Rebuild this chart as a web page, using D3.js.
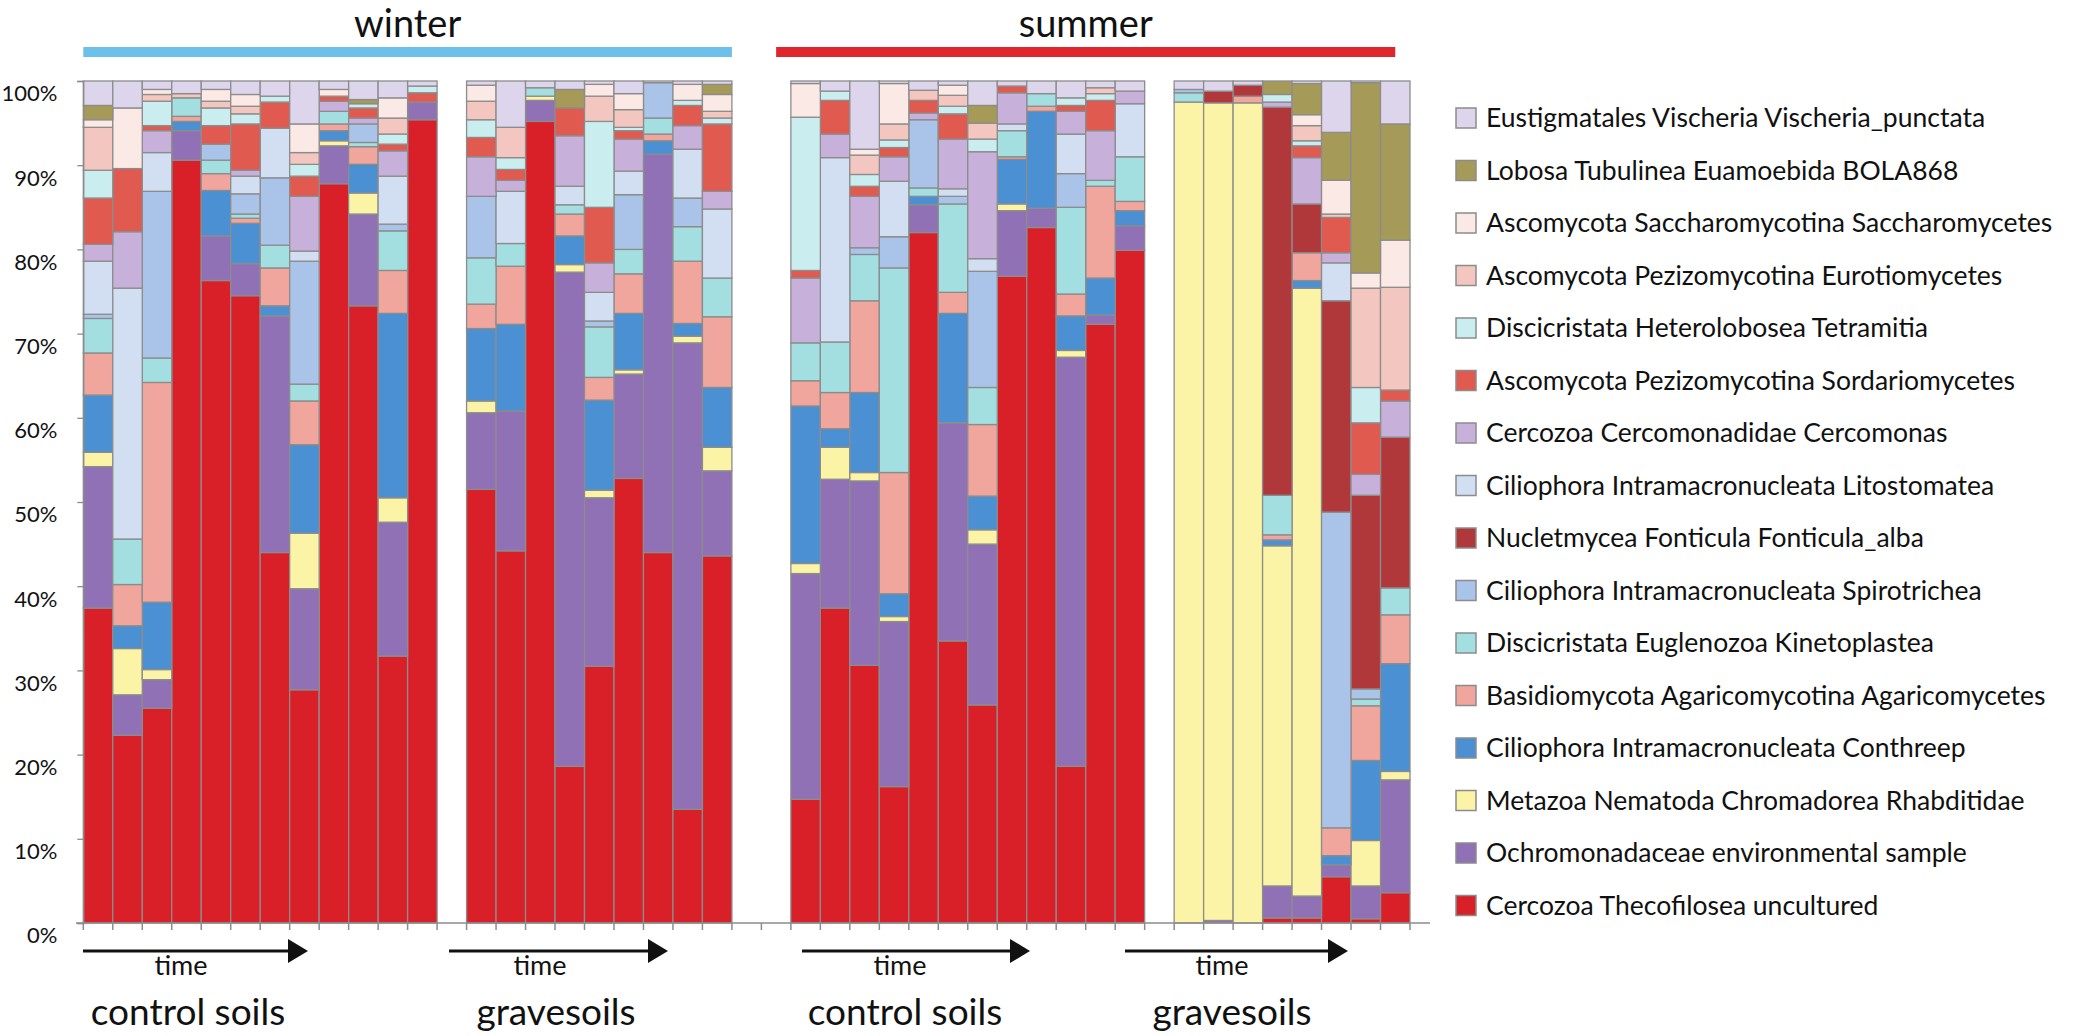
<!DOCTYPE html>
<html><head><meta charset="utf-8">
<script src="https://cdn.jsdelivr.net/npm/d3@7"></script>
<style>
body{margin:0;background:#fff}
svg{display:block}
text{font-family:Lato,"Open Sans",sans-serif;fill:#111}
</style>
</head><body>
<svg id="chart" width="2100" height="1036"></svg>
<script>
// ---------- data (series listed bottom -> top of each stack) ----------
const seriesNames = [
  "Cercozoa Thecofilosea uncultured",
  "Ochromonadaceae environmental sample",
  "Metazoa Nematoda Chromadorea Rhabditidae",
  "Ciliophora Intramacronucleata Conthreep",
  "Basidiomycota Agaricomycotina Agaricomycetes",
  "Discicristata Euglenozoa Kinetoplastea",
  "Ciliophora Intramacronucleata Spirotrichea",
  "Nucletmycea Fonticula Fonticula_alba",
  "Ciliophora Intramacronucleata Litostomatea",
  "Cercozoa Cercomonadidae Cercomonas",
  "Ascomycota Pezizomycotina Sordariomycetes",
  "Discicristata Heterolobosea Tetramitia",
  "Ascomycota Pezizomycotina Eurotiomycetes",
  "Ascomycota Saccharomycotina Saccharomycetes",
  "Lobosa Tubulinea Euamoebida BOLA868",
  "Eustigmatales Vischeria Vischeria_punctata"
];
const seriesColors = [
  "#d91f27","#9171b5","#fbf3a6","#4b90d2","#f0a59d","#a3dfe0","#a9c4e8","#b0383b",
  "#d2def2","#c7b0d9","#e05a50","#caeef0","#f4c6c0","#fbe9e6","#a59a57","#dcd5ec"
];

// each row = one sample (time order), values in % in seriesNames order
const winterControl = [
  [37.4,16.8,1.7,6.8,5.0,4.1,0.5,0,6.3,2.0,5.5,3.3,5.1,0.9,1.7,2.9],
  [22.3,4.8,5.5,2.7,4.9,5.4,0,0,29.8,6.7,7.5,0,0,7.2,0,3.2],
  [25.5,3.4,1.2,8.0,26.1,2.9,19.8,0,4.6,2.6,0.6,2.9,0.8,0.6,0,1.0],
  [90.6,3.5,0,1.1,0.6,2.2,0,0,0,0,0,0,0.5,0,0,1.5],
  [76.3,5.3,0,5.4,2.0,1.6,1.9,0,0,0,2.2,2.1,0.8,1.4,0,1.0],
  [74.5,3.8,0,4.8,0.6,0.5,2.4,0,2.1,0.7,5.5,1.2,0.9,1.4,0,1.6],
  [44.0,28.1,0,1.2,4.5,2.7,8.0,0,5.9,0,3.1,0.7,0,0,0,1.8],
  [27.7,12.0,6.6,10.5,5.2,2.0,14.6,0,1.2,6.5,2.4,1.4,1.4,3.4,0,5.1],
  [87.8,4.5,0.6,1.2,0.8,1.5,0,0,0,1.2,0.6,0,0,0.8,0,1.0],
  [73.3,10.9,2.5,3.4,2.1,0.5,2.2,0,0,0.7,1.2,0.5,0,0,0.5,2.2],
  [31.7,15.9,2.9,21.9,5.1,4.7,0.8,0,5.7,3.0,0.8,1.2,1.9,2.4,0,2.0],
  [95.4,2.1,0,0,0,0,0,0,0,0,1.1,0.8,0,0,0,0.6]
];
const winterGrave = [
  [51.5,9.1,1.4,8.6,2.9,5.5,7.3,0,0,4.7,2.3,2.1,2.2,1.9,0,0.5],
  [44.2,16.6,0,10.3,6.9,2.7,0,0,6.2,1.3,1.3,1.4,3.6,0,0,5.5],
  [95.2,2.5,0.5,0,0,1.0,0,0,0,0,0,0,0,0,0,0.8],
  [18.6,58.7,0.9,3.4,2.6,1.1,0,0,2.2,6.0,3.3,0,0,0,2.2,1.0],
  [30.5,20.0,0.9,10.7,2.7,6.0,0.7,0,3.4,3.5,6.6,10.2,3.0,1.4,0,0.4],
  [52.8,12.4,0.5,6.7,4.7,2.9,6.5,0,2.8,3.8,1.0,0.4,2.1,1.9,0,1.5],
  [44.0,47.3,0,1.6,0.8,1.9,4.2,0,0,0,0,0,0,0,0,0.2],
  [13.5,55.4,0.8,1.5,7.4,4.1,3.4,0,5.8,2.8,2.4,0.6,0,1.9,0,0.4],
  [43.6,10.1,2.8,7.1,8.4,4.6,0,0,8.2,2.1,8.0,0.7,0.8,2.0,1.2,0.4]
];
const summerControl = [
  [14.7,26.8,1.2,18.7,3.0,4.5,0,0,0,7.7,0.9,18.2,0,4.0,0,0.3],
  [37.4,15.3,3.8,2.2,4.3,6.0,0,0,21.9,2.8,4.0,1.1,0,0,0,1.2],
  [30.6,21.9,1.0,9.5,10.9,5.5,0.8,0,0,6.1,1.2,1.4,2.3,0.7,0,8.1],
  [16.2,19.6,0.6,2.7,14.4,24.3,3.7,0,6.6,2.9,1.1,0.9,1.9,4.8,0,0.3],
  [82.0,3.3,0,1.0,0,1.0,8.1,0,0,0.8,1.5,0,1.2,0,0,1.1],
  [33.5,25.9,0,13.0,2.5,10.5,0.9,0,0.9,5.9,3.0,0.9,1.3,1.2,0,0.5],
  [25.9,19.1,1.7,4.0,8.5,4.4,13.8,0,1.5,12.7,0,1.5,1.9,0,2.1,2.9],
  [76.8,7.8,0.8,5.3,0.3,3.1,0,0,0.8,3.7,0.8,0,0,0,0,0.6],
  [82.6,2.3,0,11.5,0.6,1.5,0,0,0,0,0,0,0,0,0,1.5],
  [18.6,48.6,0.8,4.1,2.6,10.3,4.0,0,4.7,2.7,0.7,0.9,0,0,0,2.0],
  [71.1,1.1,0,4.4,10.9,0.7,0,0,0,5.9,3.6,0.8,0.7,0,0,0.8],
  [79.9,2.9,0,1.8,1.1,5.3,0,0,6.3,1.5,0,0,0,0,0,1.2]
];
const summerGrave = [
  [0,0,97.5,0,0,1.1,0.4,0,0,0,0,0,0,0,0,1.0],
  [0,0.3,97.1,0,0,0,0,1.4,0,0,0,0,0,0,0,1.2],
  [0,0,97.4,0,0.8,0,0,1.3,0,0,0,0,0,0,0,0.5],
  [0.6,3.8,40.4,0.7,0.6,4.7,0,46.1,0,0.6,0,0.9,0,0,1.6,0],
  [0.6,2.6,72.2,0.9,3.3,0,0,5.8,0,5.5,1.4,0.6,1.8,1.3,3.7,0.3],
  [5.5,1.4,0,1.1,3.3,0,37.5,25.1,4.5,1.2,4.2,0,0.4,4.0,5.7,6.1],
  [0.5,3.9,5.4,9.5,6.5,0.8,1.2,23.0,0,2.5,6.1,4.2,11.8,1.8,22.6,0.2],
  [3.6,13.4,1.0,12.8,5.8,3.2,0,17.9,0,4.3,1.3,0,12.2,5.6,13.8,5.1]
];

const groupLabels = ["control soils","gravesoils","control soils","gravesoils"];
const seasonLabels = ["winter","summer"];
const yTicks = [0,10,20,30,40,50,60,70,80,90,100];
const timeLabel = "time";

// ---------- layout ----------
const groups = [
  {key:"WC", rows:winterControl, gapBefore:0, season:0},
  {key:"WG", rows:winterGrave,   gapBefore:1, season:0},
  {key:"SC", rows:summerControl, gapBefore:2, season:1},
  {key:"SG", rows:summerGrave,   gapBefore:1, season:1}
];
const slots = [];
const bars = [];
groups.forEach((g,gi)=>{
  for(let i=0;i<g.gapBefore;i++) slots.push(g.key+"_gap"+i);
  g.rows.forEach((r,i)=>{
    const id=g.key+"_"+(i+1);
    slots.push(id);
    const o={id, group:gi};
    r.forEach((v,k)=>o["s"+k]=v);
    bars.push(o);
  });
});

const svg = d3.select("#chart");
const x = d3.scaleBand().domain(slots).range([83.3,1410]).paddingInner(0).paddingOuter(0);
const y = d3.scaleLinear().domain([0,100]).range([923,81]);
const bw = x.bandwidth();
const keys = seriesNames.map((_,k)=>"s"+k);
const stack = d3.stack().keys(keys)(bars);

const BORDER = "#8c8c8c";

// bars
const layer = svg.append("g").selectAll("g").data(stack).join("g")
  .attr("fill",(d,i)=>seriesColors[i]);
layer.selectAll("rect").data(d=>d.filter(p=>p[1]-p[0]>0)).join("rect")
  .attr("x",d=>x(d.data.id))
  .attr("width",bw)
  .attr("y",d=>y(d[1]))
  .attr("height",d=>y(d[0])-y(d[1]))
  .attr("stroke",BORDER).attr("stroke-width",1.3);

// x baseline + ticks at every slot boundary
const xa = svg.append("g");
xa.append("line").attr("x1",76).attr("x2",1430).attr("y1",y(0)).attr("y2",y(0))
  .attr("stroke",BORDER).attr("stroke-width",1.5);
const bounds = slots.map(s=>x(s)).concat([x(slots[slots.length-1])+bw]);
xa.selectAll("line.t").data(bounds).join("line").attr("class","t")
  .attr("x1",d=>d).attr("x2",d=>d).attr("y1",y(0)).attr("y2",y(0)+7)
  .attr("stroke",BORDER).attr("stroke-width",1.5);

// y axis
const ya = svg.append("g").attr("transform","translate(83.3,0)")
  .call(d3.axisLeft(y).tickValues(yTicks).tickFormat(d=>d+"%").tickSize(6).tickPadding(20));
ya.select(".domain").attr("stroke",BORDER).attr("stroke-width",1.3);
ya.selectAll(".tick line").attr("stroke",BORDER).attr("stroke-width",1.3);
ya.selectAll(".tick text").attr("font-size",22).attr("fill","#111")
  .attr("font-family","Lato, 'Open Sans', sans-serif").attr("dy","0.9em");

// season header bars + titles
const seasonSpan = seasonLabels.map((s,si)=>{
  const ids = bars.filter(b=>groups[b.group].season===si).map(b=>b.id);
  let x0 = x(ids[0]), x1 = x(ids[ids.length-1])+bw;
  if(si===1){ x0 -= bw/2; x1 -= bw/2; }
  return {label:s, x0, x1, color: si===0 ? "#6cc0ea" : "#e0252d"};
});
svg.append("g").selectAll("rect").data(seasonSpan).join("rect")
  .attr("x",d=>d.x0).attr("width",d=>d.x1-d.x0).attr("y",47).attr("height",10)
  .attr("fill",d=>d.color);
svg.append("g").selectAll("text").data(seasonSpan).join("text")
  .attr("x",d=>(d.x0+d.x1)/2).attr("y",37).attr("text-anchor","middle")
  .attr("font-size",38).text(d=>d.label);

// time arrows and group labels below the axis
const belowCfg = [
  {ax0:83, ax1:308, tx:181, gx:188},
  {ax0:449, ax1:668, tx:540, gx:556},
  {ax0:802, ax1:1030, tx:900, gx:905},
  {ax0:1125, ax1:1348, tx:1222, gx:1232}
];
const below = svg.append("g");
belowCfg.forEach((c,i)=>{
  below.append("line").attr("x1",c.ax0).attr("x2",c.ax1-16).attr("y1",951).attr("y2",951)
    .attr("stroke","#111").attr("stroke-width",3.2);
  below.append("path").attr("d",`M${c.ax1-20},939 L${c.ax1},951 L${c.ax1-20},963 Z`).attr("fill","#111");
  below.append("text").attr("x",c.tx).attr("y",975).attr("text-anchor","middle")
    .attr("font-size",27).text(timeLabel);
  below.append("text").attr("x",c.gx).attr("y",1025).attr("text-anchor","middle")
    .attr("font-size",37).text(groupLabels[i]);
});

// legend (top = last series)
const legendItems = seriesNames.map((n,i)=>({name:n,color:seriesColors[i]})).reverse();
const lg = svg.append("g").selectAll("g").data(legendItems).join("g")
  .attr("transform",(d,i)=>`translate(1456,${118 + i*52.5})`);
lg.append("rect").attr("x",0).attr("y",-10).attr("width",20).attr("height",20)
  .attr("fill",d=>d.color).attr("stroke","#8c8c8c").attr("stroke-width",1.5);
lg.append("text").attr("x",30).attr("y",9).attr("font-size",26.5).text(d=>d.name);
</script>
</body></html>
